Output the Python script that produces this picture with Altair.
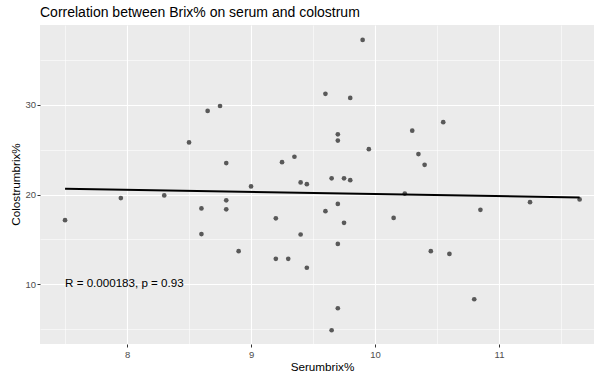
import altair as alt
import pandas as pd

serum = [8.65, 8.75, 8.5, 8.8, 9.0, 9.25, 9.35, 9.4, 9.45,
         9.9, 9.6, 9.8, 9.7, 9.7, 9.95, 10.3, 10.55, 10.35, 10.4, 9.65, 9.75, 9.8,
         7.5, 7.95, 8.3,
         8.6, 8.8, 8.8, 8.6, 8.9, 9.2, 9.2, 9.3, 9.4, 9.45,
         10.24, 9.7, 9.6, 9.75, 9.7, 10.15, 10.45, 10.6, 9.7, 9.65,
         10.85, 11.25, 11.65, 10.8]
colostrum = [29.3, 29.85, 25.8, 23.5, 20.9, 23.6, 24.2, 21.35, 21.15,
             37.2, 31.2, 30.75, 26.7, 26.0, 25.05, 27.1, 28.05, 24.5, 23.3, 21.8, 21.8, 21.6,
             17.15, 19.6, 19.9,
             18.45, 19.35, 18.35, 15.6, 13.7, 17.35, 12.85, 12.85, 15.55, 11.85,
             20.1, 18.95, 18.15, 16.85, 14.5, 17.4, 13.7, 13.4, 7.35, 4.9,
             18.3, 19.15, 19.45, 8.35]

x_major = [8, 9, 10, 11]
x_minor = [7.5, 8.5, 9.5, 10.5, 11.5]
y_major = [10, 20, 30]
y_minor = [5, 15, 25, 35]

ann_text = ["R = 0.000183, p = 0.93"]
ann_x = [7.5]
ann_y = [10]

df = pd.DataFrame({"serum": serum, "colostrum": colostrum})
ann = pd.DataFrame({"x": ann_x, "y": ann_y, "t": ann_text})

FONT = "Liberation Sans"
xs = alt.Scale(domain=[7.298, 11.766], nice=False, zero=False)
ys = alt.Scale(domain=[3.37, 38.86], nice=False, zero=False)

x_major_axis = alt.Axis(values=x_major, orient="bottom", title="Serumbrix%", grid=True,
                        gridColor="white", gridWidth=1.1, domain=False,
                        tickSize=3, tickColor="#333333", tickWidth=1,
                        labelColor="#4D4D4D", labelFontSize=9.5, labelFont=FONT,
                        labelPadding=2, labelBaseline="top",
                        titleFont=FONT, titleFontSize=11.7, titleFontWeight="normal",
                        titleColor="black", titleX=282, titleY=22,
                        titleBaseline="middle", titleAlign="center")
y_major_axis = alt.Axis(values=y_major, orient="left", title="Colostrumbrix%", grid=True,
                        gridColor="white", gridWidth=1.1, domain=False,
                        tickSize=3, tickColor="#333333", tickWidth=1,
                        labelColor="#4D4D4D", labelFontSize=9.5, labelFont=FONT,
                        labelPadding=1.5,
                        titleFont=FONT, titleFontSize=11.7, titleFontWeight="normal",
                        titleColor="black", titleX=-25, titleY=159,
                        titleBaseline="middle", titleAlign="center", titleAngle=270)
x_minor_axis = alt.Axis(values=x_minor, orient="top", title=None, grid=True,
                        gridColor="white", gridWidth=0.55, domain=False,
                        ticks=False, labels=False)
y_minor_axis = alt.Axis(values=y_minor, orient="right", title=None, grid=True,
                        gridColor="white", gridWidth=0.55, domain=False,
                        ticks=False, labels=False)

base = alt.Chart(df)

minor = base.mark_point(opacity=0).encode(
    x=alt.X("serum:Q", scale=xs, axis=x_minor_axis),
    y=alt.Y("colostrum:Q", scale=ys, axis=y_minor_axis),
)

points = base.mark_circle(size=22, color="#595959", opacity=1).encode(
    x=alt.X("serum:Q", scale=xs, axis=x_major_axis),
    y=alt.Y("colostrum:Q", scale=ys, axis=y_major_axis),
)

line = base.transform_regression("serum", "colostrum").mark_line(
    color="black", strokeWidth=2
).encode(
    x=alt.X("serum:Q", scale=xs, axis=None),
    y=alt.Y("colostrum:Q", scale=ys, axis=None),
)

text = alt.Chart(ann).mark_text(
    align="left", baseline="middle", fontSize=11.6, font=FONT, color="black"
).encode(
    x=alt.X("x:Q", scale=xs, axis=None),
    y=alt.Y("y:Q", scale=ys, axis=None),
    text="t:N",
)

chart = alt.layer(minor, points, line, text).resolve_axis(
    x="independent", y="independent"
).properties(
    width=554, height=319,
    background="white",
    title=alt.TitleParams("Correlation between Brix% on serum and colostrum",
                          anchor="start", frame="group", font=FONT, fontSize=14,
                          fontWeight="normal", color="black",
                          baseline="alphabetic", offset=8, dy=14),
    autosize=alt.AutoSizeParams(type="none"),
    padding={"left": 40, "top": 25, "right": 0, "bottom": 30},
).configure_view(fill="#EBEBEB", strokeWidth=0)

chart.save("out.html", embed_options={"renderer": "svg", "actions": False})
